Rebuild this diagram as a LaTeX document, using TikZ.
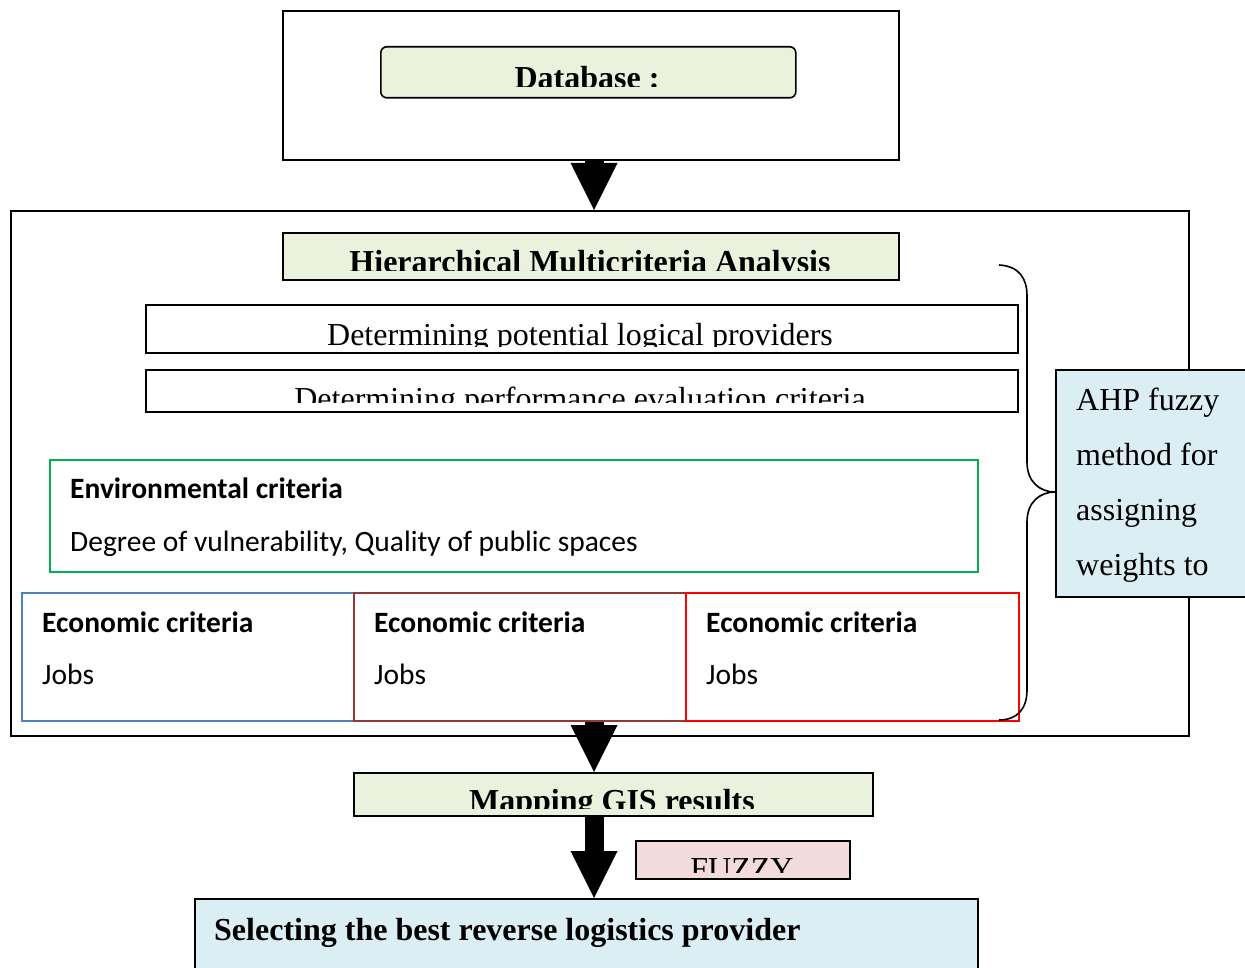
\documentclass[tikz,border=0pt]{standalone}
\usepackage{fontspec}
\setmainfont{Liberation Serif}
\newfontfamily\calibri{Carlito}
\usetikzlibrary{arrows.meta}

\definecolor{boxgreen}{HTML}{EAF1DD}
\definecolor{boxblue}{HTML}{DBEEF4}
\definecolor{boxpink}{HTML}{F2DCDB}
\definecolor{envgreen}{HTML}{00B050}
\definecolor{ecoblue}{HTML}{4F81BD}
\definecolor{ecobrown}{HTML}{953735}
\definecolor{ecored}{HTML}{FF0000}

\tikzset{
  box/.style={draw, line width=1.6pt, inner sep=0pt, anchor=north west},
  serif/.style={font=\fontsize{32}{38}\selectfont, inner sep=0pt},
  serifb/.style={font=\fontsize{32}{38}\selectfont\bfseries, inner sep=0pt},
  sans/.style={font=\calibri\fontsize{29.5}{35}\selectfont, anchor=base west, inner sep=0pt},
  sansb/.style={font=\calibri\fontsize{29.5}{35}\selectfont\bfseries, anchor=base west, inner sep=0pt},
  fat/.style={line width=19pt, -{Triangle[width=47pt,length=47pt,line width=0pt]}},
}

\begin{document}
\begin{tikzpicture}[x=1pt, y=-1pt]
\clip (0,0) rectangle (1245,968);
\coordinate (axis) at (594,0);

% database
\node[box, minimum width=616pt, minimum height=149pt] (db) at (282,10) {};
\node[box, fill=boxgreen, rounded corners=6pt, minimum width=415pt, minimum height=51pt] (dbin) at (380,46) {};
\begin{scope}
\clip (380,46) rectangle (795,87);
\node[serifb, anchor=base] (dbtext) at (587,89) {Database :};
\end{scope}

% analysis frame
\node[box, minimum width=1178pt, minimum height=525pt] (main) at (10,210) {};
\node[box, fill=boxgreen, minimum width=616pt, minimum height=47pt] (hma) at (282,232) {};
\begin{scope}
\clip (282,232) rectangle (898,271);
\node[serifb, anchor=base] (hmatext) at (590,273) {Hierarchical Multicriteria Analysis};
\end{scope}

\node[box, minimum width=872pt, minimum height=48pt] (det1) at (145,304) {};
\begin{scope}
\clip (145,304) rectangle (1017,346);
\node[serif, anchor=base] (det1text) at (580,345) {Determining potential logical providers};
\end{scope}

\node[box, minimum width=872pt, minimum height=42pt] (det2) at (145,369) {};
\begin{scope}
\clip (145,369) rectangle (1017,402);
\node[serif, anchor=base] (det2text) at (580,409) {Determining performance evaluation criteria};
\end{scope}

% criteria
\node[box, draw=envgreen, minimum width=928pt, minimum height=112pt] (env) at (49,459) {};
\node[sansb] (envtitle) at (70,498) {Environmental criteria};
\node[sans] (envtext) at (70,551) {Degree of vulnerability, Quality of public spaces};

\node[box, draw=ecoblue, minimum width=332pt, minimum height=128pt] (eco1) at (21,592) {};
\node[box, draw=ecobrown, minimum width=332pt, minimum height=128pt] (eco2) at (353,592) {};
\node[box, draw=ecored, minimum width=333pt, minimum height=128pt] (eco3) at (685,592) {};
\node[sansb] (eco1title) at (42,632) {Economic criteria};
\node[sans] (eco1text) at (42,684) {Jobs};
\node[sansb] (eco2title) at (374,632) {Economic criteria};
\node[sans] (eco2text) at (374,684) {Jobs};
\node[sansb] (eco3title) at (706,632) {Economic criteria};
\node[sans] (eco3text) at (706,684) {Jobs};

% brace and AHP
\draw[line width=1.6pt] (999,265) .. controls (1020,266) and (1027,280) .. (1027,295)
  -- (1027,462) .. controls (1027,482) and (1040,492) .. (1055,492)
  .. controls (1040,492) and (1027,502) .. (1027,522)
  -- (1027,690) .. controls (1027,708) and (1018,720) .. (999,720);
\node[box, fill=boxblue, minimum width=200pt, minimum height=227pt] (ahp) at (1055,369) {};
\node[serif, anchor=base west] (ahp1) at (1076,410) {AHP fuzzy};
\node[serif, anchor=base west] (ahp2) at (1076,465) {method for};
\node[serif, anchor=base west] (ahp3) at (1076,520) {assigning};
\node[serif, anchor=base west] (ahp4) at (1076,575) {weights to};

% results
\node[box, fill=boxgreen, minimum width=519pt, minimum height=43pt] (map) at (353,772) {};
\begin{scope}
\clip (353,772) rectangle (872,808);
\node[serifb, anchor=base] (maptext) at (612,811) {Mapping GIS results};
\end{scope}

\node[box, fill=boxpink, minimum width=214pt, minimum height=38pt] (fuzzy) at (635,840) {};
\begin{scope}
\clip (635,840) rectangle (849,872);
\node[serif, anchor=base] (fuzzytext) at (742,879) {FUZZY};
\end{scope}

\node[box, fill=boxblue, minimum width=783pt, minimum height=90pt] (sel) at (194,898) {};
\node[serifb, anchor=base west] (seltext) at (214,940) {Selecting the best reverse logistics provider};

% arrows
\draw[fat] (db.south -| axis) -- (main.north -| axis);
\draw[fat] (eco2.south -| axis) -- (map.north -| axis);
\draw[fat] (map.south -| axis) -- (sel.north -| axis);
\end{tikzpicture}
\end{document}
